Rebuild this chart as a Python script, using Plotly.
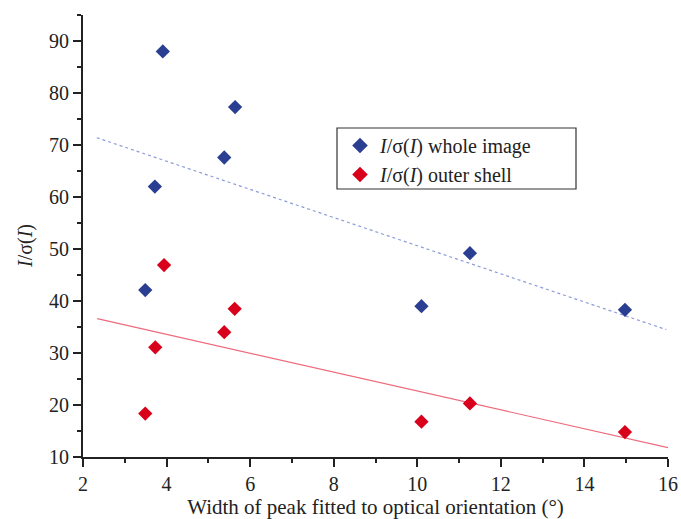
import plotly.graph_objects as go

# Data
whole_x = [3.91, 5.64, 5.38, 3.72, 3.49, 10.10, 11.26, 14.97]
whole_y = [88.0, 77.3, 67.6, 62.0, 42.1, 39.0, 49.2, 38.3]
outer_x = [3.94, 5.63, 5.38, 3.73, 3.49, 10.10, 11.26, 14.97]
outer_y = [46.9, 38.5, 34.0, 31.1, 18.35, 16.8, 20.3, 14.8]

# Linear fit lines (endpoints)
fit_whole_x = [2.33, 15.96]
fit_whole_y = [71.4, 34.5]
fit_outer_x = [2.34, 16.0]
fit_outer_y = [36.6, 11.8]

x_ticks = [2, 4, 6, 8, 10, 12, 14, 16]
y_ticks = [10, 20, 30, 40, 50, 60, 70, 80, 90]

BLUE = "#2B3F92"
RED = "#D9001B"
FONT = "Liberation Serif, Times New Roman, serif"

# plot area geometry (px) used for paper-coordinate placements
L, R, T, B = 83, 13, 15, 62
W, H = 681, 519
PW, PH = W - L - R, H - T - B


def px_x(px):
    return (px - L) / PW


def px_y(py):
    return 1 - (py - T) / PH


fig = go.Figure()
fig.add_trace(go.Scatter(x=fit_whole_x, y=fit_whole_y, mode="lines",
                         line=dict(color="#8C9BD9", width=1.2, dash="dot"),
                         showlegend=False, hoverinfo="skip"))
fig.add_trace(go.Scatter(x=fit_outer_x, y=fit_outer_y, mode="lines",
                         line=dict(color="#EE6A7C", width=1.2),
                         showlegend=False, hoverinfo="skip"))
fig.add_trace(go.Scatter(x=whole_x, y=whole_y, mode="markers",
                         marker=dict(symbol="diamond", size=11, color=BLUE),
                         name="<i>I</i>/σ(<i>I</i>) whole image"))
fig.add_trace(go.Scatter(x=outer_x, y=outer_y, mode="markers",
                         marker=dict(symbol="diamond", size=11, color=RED),
                         name="<i>I</i>/σ(<i>I</i>) outer shell"))

axis_common = dict(
    showgrid=False, zeroline=False, showline=True, linecolor="#222222",
    linewidth=2, ticks="outside", ticklen=8, tickwidth=1.5, tickcolor="#222222",
    tickfont=dict(family=FONT, size=20, color="#222222"),
    mirror=False, automargin=False,
)

fig.update_layout(
    width=W, height=H,
    margin=dict(l=L, r=R, t=T, b=B),
    paper_bgcolor="white", plot_bgcolor="white",
    font=dict(family=FONT, color="#222222"),
    xaxis=dict(range=[2, 16], tickvals=x_ticks,
               minor=dict(dtick=1, ticks="outside", ticklen=4, tickwidth=1.5, tickcolor="#222222"),
               title=dict(text="Width of peak fitted to optical orientation (°)",
                          font=dict(family=FONT, size=21), standoff=12),
               **axis_common),
    yaxis=dict(range=[10, 95], tickvals=y_ticks,
               minor=dict(dtick=5, ticks="outside", ticklen=4, tickwidth=1.5, tickcolor="#222222"),
               **axis_common),
    legend=dict(x=px_x(340), y=px_y(126), xanchor="left", yanchor="top",
                borderwidth=0, bgcolor="rgba(0,0,0,0)",
                font=dict(family=FONT, size=20, color="#222222"),
                itemsizing="constant", tracegroupgap=0),
    shapes=[dict(type="rect", xref="paper", yref="paper",
                 x0=px_x(337), x1=px_x(576), y0=px_y(189), y1=px_y(128),
                 line=dict(color="#333333", width=1.2), fillcolor="white",
                 layer="below")],
    annotations=[dict(text="<i>I</i>/σ(<i>I</i>)", xref="paper", yref="paper",
                      x=px_x(25), y=px_y(246), textangle=-90, showarrow=False,
                      xanchor="center", yanchor="middle",
                      font=dict(family=FONT, size=20, color="#222222"))],
)

fig.write_html("out.html", config={"displayModeBar": False},
               post_script="document.body.style.margin='0';")
